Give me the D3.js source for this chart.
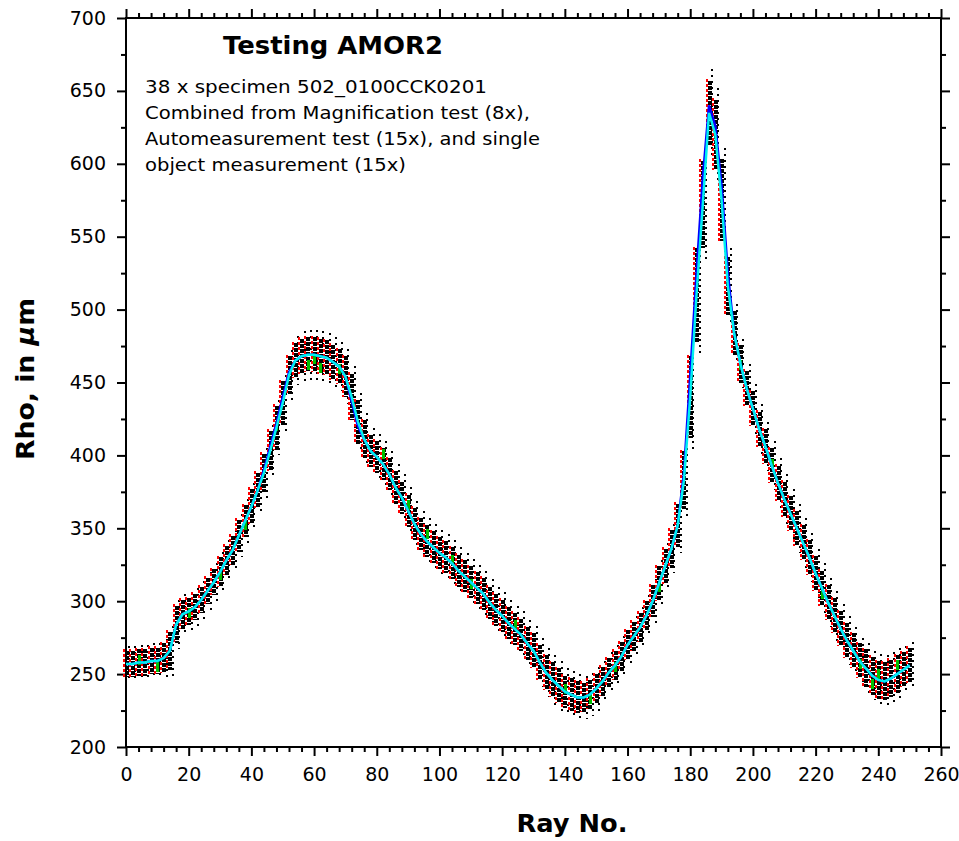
<!DOCTYPE html>
<html>
<head>
<meta charset="utf-8">
<script src="https://d3js.org/d3.v7.min.js"></script>
<style>
  body { margin: 0; background: #fff; }
  svg text { font-family: "DejaVu Sans", Verdana, sans-serif; fill: #000; }
</style>
</head>
<body>
<script>
// ray numbers sampled every 2 rays
var rays = [0,2,4,6,8,10,12,14,16,18,20,22,24,26,28,30,32,34,36,38,40,42,44,46,48,50,
  52,54,56,58,60,62,64,66,68,70,72,74,76,78,80,82,84,86,88,90,92,94,96,98,100,
  102,104,106,108,110,112,114,116,118,120,122,124,126,128,130,132,134,136,138,140,
  142,144,146,148,150,152,154,156,158,160,162,164,166,168,170,172,174,176,178,180,
  182,184,186,188,190,192,194,196,198,200,202,204,206,208,210,212,214,216,218,220,
  222,224,226,228,230,232,234,236,238,240,242,244,246,248,250];

// mean rho (cyan line)
var cyanRho = [257,257,258,258,259,259,261,266,284,291,293,296,301,307,313,320,328,335,345,355,
  365,376,388,403,419,436,455,465,468,469,469,468,467,464,461,454,440,423,411,403,
  399,394,387,378,371,362,353,346,341,337,333,330,326,321,317,313,309,305,299,294,
  290,285,281,277,271,266,258,251,246,242,238,236,234,234,236,240,245,251,256,262,
  270,276,282,290,300,312,324,336,352,383,440,510,572,635,620,575,516,484,463,446,
  432,418,406,393,381,370,360,350,340,330,319,309,299,290,281,273,266,259,254,249,
  246,245,247,250,253,256];

// automeasurement mean (blue line)
var blueRho = [257,257,258,258,259,259,261,266,284,291,293,296,301,307,313,320,328,335,345,355,
  365,376,390,406,422,440,457,465,468,469,469,468,467,464,461,454,437,420,411,403,
  399,394,387,378,371,362,353,346,341,337,333,330,326,321,317,313,309,305,299,294,
  290,285,281,277,271,266,258,251,246,242,238,236,234,234,236,240,245,251,256,262,
  270,276,282,290,300,312,324,336,352,388,455,525,590,640,626,585,525,484,463,446,
  432,418,406,393,381,370,360,350,340,330,319,309,299,290,281,273,266,259,254,249,
  246,245,247,250,253,256];

// half height of the dense dot cloud, in um
var denseHalf = [9,9,9,9,9,9,10,13,
  13,10,9,9,9,9,9,10,10,10,11,11,12,12,13,
  14,15,15,13,12,
  12,12,12,12,12,12,12,14,
  16,15,13,11,
  11,11,11,11,11,11,11,11,11,11,11,11,11,11,11,11,11,11,11,11,11,11,11,11,11,12,12,12,12,12,11,
  11,11,10,10,10,
  10,10,10,10,10,10,10,10,11,12,12,13,15,
  20,28,32,30,22,24,28,20,15,
  13,12,12,12,12,12,12,12,12,12,12,12,12,12,12,12,12,12,
  12,12,13,13,13,13,13,13,12,12];

// half height of the sparse outlying dots, in um
var sparseHalf = [12,12,12,12,12,12,13,17,
  17,14,13,13,13,13,13,14,14,14,15,15,16,16,17,
  18,19,19,17,17,
  17,17,17,17,17,17,17,19,
  21,20,18,16,
  16,16,16,16,16,16,16,16,16,16,16,16,16,16,16,16,16,16,16,16,16,16,16,16,16,17,17,17,17,17,16,
  16,16,15,15,15,
  14,14,14,14,14,14,14,14,15,16,16,17,19,
  26,36,40,38,30,32,36,26,20,
  17,17,17,17,17,17,17,17,17,17,17,17,17,17,17,17,17,17,
  16,16,17,17,18,18,18,18,16,16];

// single object measurements (green)
var greenRays = [4,10,20,30,38,48,58,60,62,68,82,90,96,104,110,124,140,148,156,170,196,206,222,234,238,240,246];
var greenRho  = [260,255,292,318,352,420,462,466,460,459,401,366,346,328,312,284,240,233,255,310,462,394,305,257,243,250,256];

var xMajor = [0,20,40,60,80,100,120,140,160,180,200,220,240,260];
var yMajor = [200,250,300,350,400,450,500,550,600,650,700];

var titleText = "Testing AMOR2";
var noteLines = ["38 x specimen 502_0100CCK0201",
                 "Combined from Magnification test (8x),",
                 "Automeasurement test (15x), and single",
                 "object measurement (15x)"];
var noteWidths = [342, 385, 395, 261];

var W = 959, H = 841;
var margin = {left: 126, top: 18, right: 18, bottom: 94};
var w = W - margin.left - margin.right,
    h = H - margin.top - margin.bottom;

var svg = d3.select("body").append("svg")
  .attr("width", W).attr("height", H);
var g = svg.append("g").attr("transform", "translate(" + margin.left + "," + margin.top + ")");

var x = d3.scaleLinear().domain([0, 260]).range([0, w]);
var y = d3.scaleLinear().domain([200, 700]).range([h, 0]);

// minor tick values come from the major ones
var xMinor = [];
xMajor.forEach(function(v, i) { if (i < xMajor.length - 1) [4, 8, 12, 16].forEach(function(k){ xMinor.push(v + k); }); });
var yMinor = yMajor.slice(0, -1).map(function(v){ return v + 25; });

function styleAxis(sel) {
  sel.select(".domain").remove();
  sel.selectAll(".tick line").attr("stroke", "#000").attr("stroke-width", 2);
  sel.selectAll(".tick text").style("font-size", "19px").attr("fill", "#000");
}

// bottom
g.append("g").attr("transform", "translate(0," + h + ")")
  .call(d3.axisBottom(x).tickValues(xMajor).tickSize(9).tickPadding(12).tickFormat(d3.format("d")))
  .call(styleAxis);
g.append("g").attr("transform", "translate(0," + h + ")")
  .call(d3.axisBottom(x).tickValues(xMinor).tickSize(5).tickFormat(""))
  .call(styleAxis);
// top
g.append("g")
  .call(d3.axisTop(x).tickValues(xMajor).tickSize(9).tickFormat(""))
  .call(styleAxis);
g.append("g")
  .call(d3.axisTop(x).tickValues(xMinor).tickSize(5).tickFormat(""))
  .call(styleAxis);
// left
g.append("g")
  .call(d3.axisLeft(y).tickValues(yMajor).tickSize(9).tickPadding(11).tickFormat(d3.format("d")))
  .call(styleAxis);
g.append("g")
  .call(d3.axisLeft(y).tickValues(yMinor).tickSize(5).tickFormat(""))
  .call(styleAxis);
// right
g.append("g").attr("transform", "translate(" + w + ",0)")
  .call(d3.axisRight(y).tickValues(yMajor).tickSize(9).tickFormat(""))
  .call(styleAxis);
g.append("g").attr("transform", "translate(" + w + ",0)")
  .call(d3.axisRight(y).tickValues(yMinor).tickSize(5).tickFormat(""))
  .call(styleAxis);

g.append("rect").attr("width", w).attr("height", h)
  .attr("fill", "none").attr("stroke", "#000").attr("stroke-width", 2);

// measurement clouds
var pts = rays.map(function(r, i) {
  return {ray: r, rho: cyanRho[i], dense: denseHalf[i], sparse: sparseHalf[i]};
});
var cloud = g.append("g").attr("shape-rendering", "crispEdges");

cloud.selectAll("line.sparse").data(pts).enter().append("line")
  .attr("class", "sparse")
  .attr("x1", function(d){ return x(d.ray) + 3; })
  .attr("x2", function(d){ return x(d.ray) + 3; })
  .attr("y1", function(d){ return y(d.rho + d.sparse); })
  .attr("y2", function(d){ return y(d.rho - d.sparse); })
  .attr("stroke", "#000").attr("stroke-width", 2).attr("stroke-dasharray", "2,4");

cloud.selectAll("line.dense").data(pts).enter().append("line")
  .attr("class", "dense")
  .attr("x1", function(d){ return x(d.ray) + 0.5; })
  .attr("x2", function(d){ return x(d.ray) + 0.5; })
  .attr("y1", function(d){ return y(d.rho + d.dense); })
  .attr("y2", function(d){ return y(d.rho - d.dense); })
  .attr("stroke", "#000").attr("stroke-width", 4).attr("stroke-dasharray", "4,1");

cloud.selectAll("line.red").data(pts).enter().append("line")
  .attr("class", "red")
  .attr("x1", function(d){ return x(d.ray) - 2.5; })
  .attr("x2", function(d){ return x(d.ray) - 2.5; })
  .attr("y1", function(d){ return y(d.rho + d.dense + 1); })
  .attr("y2", function(d){ return y(d.rho - d.dense); })
  .attr("stroke", "#ff0000").attr("stroke-width", 2).attr("stroke-dasharray", "3,2");

cloud.selectAll("rect.green").data(greenRays).enter().append("rect")
  .attr("class", "green")
  .attr("x", function(d){ return x(d) - 1; })
  .attr("y", function(d, i){ return y(greenRho[i]) - 5; })
  .attr("width", 3).attr("height", 10)
  .attr("fill", "#00c000");

// mean curves
var line = d3.line().x(function(d){ return x(d[0]); }).y(function(d){ return y(d[1]); });
g.append("path")
  .datum(rays.map(function(r, i){ return [r, blueRho[i]]; }))
  .attr("d", line).attr("fill", "none").attr("stroke", "#0000ff").attr("stroke-width", 2.5);
g.append("path")
  .datum(rays.map(function(r, i){ return [r, cyanRho[i]]; }))
  .attr("d", line).attr("fill", "none").attr("stroke", "#00f0f0").attr("stroke-width", 2.5);

// title and notes
svg.append("text")
  .attr("x", 333).attr("y", 54)
  .attr("text-anchor", "middle")
  .attr("textLength", 220).attr("lengthAdjust", "spacingAndGlyphs")
  .style("font-size", "24px").style("font-weight", "bold")
  .text(titleText);

svg.selectAll("text.note").data(noteLines).enter().append("text")
  .attr("class", "note")
  .attr("x", 145)
  .attr("y", function(d, i){ return 93 + i * 26; })
  .attr("textLength", function(d, i){ return noteWidths[i]; })
  .attr("lengthAdjust", "spacingAndGlyphs")
  .style("font-size", "17px")
  .text(function(d){ return d; });

// axis titles
svg.append("text")
  .attr("x", 572).attr("y", 832)
  .attr("text-anchor", "middle")
  .attr("textLength", 111).attr("lengthAdjust", "spacingAndGlyphs")
  .style("font-size", "25px").style("font-weight", "bold")
  .text("Ray No.");

var yt = svg.append("text")
  .attr("transform", "translate(34,379) rotate(-90)")
  .attr("text-anchor", "middle")
  .attr("textLength", 162).attr("lengthAdjust", "spacingAndGlyphs")
  .style("font-size", "25px").style("font-weight", "bold");
yt.append("tspan").text("Rho, in ");
yt.append("tspan").style("font-style", "italic").text("\u00b5");
yt.append("tspan").text("m");
</script>
</body>
</html>
